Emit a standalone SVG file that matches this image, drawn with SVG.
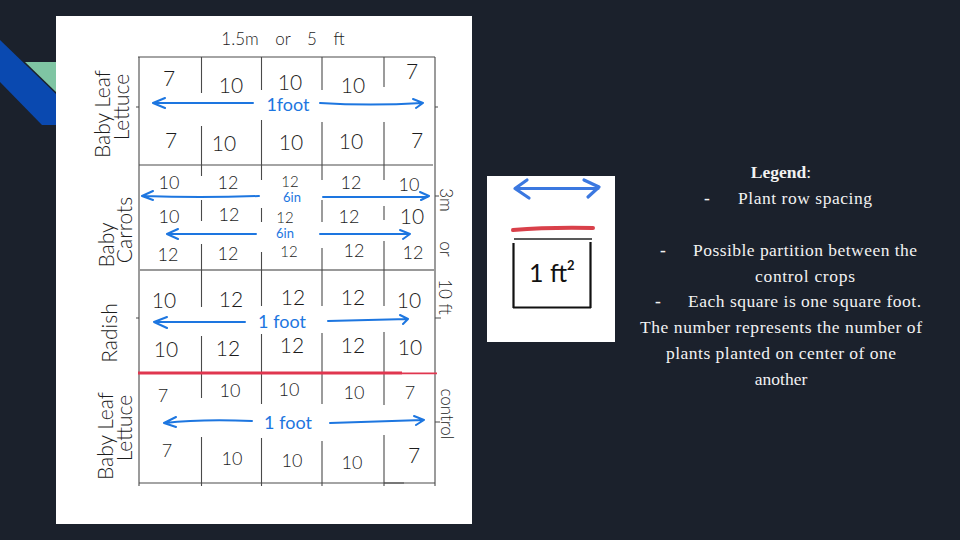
<svg xmlns="http://www.w3.org/2000/svg" width="960" height="540" viewBox="0 0 960 540">
<style>
.grid{stroke:#4a4a4a;stroke-width:1.1;fill:none}
.blue{stroke:#1d76e0;stroke-width:2;fill:none;stroke-linecap:round;stroke-linejoin:round}
.n{font-family:"Lato","Open Sans",sans-serif;font-weight:300;font-size:21px;fill:#1c1c1c;text-anchor:middle}
.s{font-size:18px}
.t{font-size:15px}
.h{font-family:"Lato","Open Sans",sans-serif;font-weight:300;font-size:21px;fill:#1c1c1c;text-anchor:middle}
.b{font-family:"Lato","Open Sans",sans-serif;font-weight:400;font-size:18px;fill:#1d76e0;text-anchor:middle}
.l{font-family:"Liberation Serif",serif;font-size:17.5px;fill:#f2f2f2}
.m{text-anchor:middle}
</style>
<rect width="960" height="540" fill="#1b212c"/>
<g id="decoration">
<polygon points="25,62 56,62 56,92" fill="#7fc5a3"/>
<polygon points="0,40 56,94 56,125 42,125 0,82" fill="#0a49b0"/>
</g>
<rect id="plan-sheet" x="56" y="16" width="416" height="508" fill="#fff"/>
<g id="connectors">
<path class="grid" d="M139 57V483M435 57V483M138 57H435M139 165H433M139 270H435M139 483H435M139 483v3M201.500 483v3M261.500 483v3M322 483v3M384 483v3M435 483v3"/>
<path class="grid" style="stroke:#999;stroke-width:1.800" d="M139 270H435"/>
<path class="grid" d="M201.500 57V93M201.500 126V176M201.500 200V221M201.500 244V307M201.500 336V398M201.500 437V483"/>
<path class="grid" d="M261.500 57V90M261.500 120V180M261.500 208V222M261.500 252V306M261.500 334V404M261.500 438V483"/>
<path class="grid" d="M322 57V90M322 122V180M322 200V222M322 248V306M322 333V404M322 441V483"/>
<path class="grid" d="M384 57V87M384 122V180M384 206V220M384 241V306M384 332V405M384 435V483"/>
<path class="grid" d="M435 196H439M435 318H441M435 422H440M136 107H139M136 318H139M435 107H438M384 483H404" />
<path d="M138 373H402" stroke="#e0364f" stroke-width="3.200" fill="none"/>
<path d="M402 373.300H437" stroke="#e0364f" stroke-width="1.800" fill="none"/>
<path class="blue" d="M253 103H154M165 98L153 103L165 108M320 103Q370 106 422 103M413 99L423 103L416 108"/>
<path class="blue" d="M259 196Q200 198 143 196M153 191L142 196L153 200M323 197H428M420 192L429 196L421 200"/>
<path class="blue" d="M256 234H168M178 229L167 234L178 239M320 234H409M400 230L410 234L403 239"/>
<path class="blue" d="M245 322H155M167 317L154 322L167 328M328 321L408 319M400 315L408 319L403 324"/>
<path class="blue" d="M252 421Q200 419 165 423M176 417L164 423L176 427M330 423L423 420M414 416L424 420L416 425"/>
</g>
<g id="cell-numbers">
<text class="n" x="169" y="86">7</text><text class="n" x="231" y="93">10</text><text class="n" x="290" y="90">10</text><text class="n" x="353" y="93">10</text><text class="n" x="412" y="79">7</text>
<text class="n" x="171" y="148">7</text><text class="n" x="224" y="151">10</text><text class="n" x="291" y="150">10</text><text class="n" x="351" y="149">10</text><text class="n" x="417" y="148">7</text>
<text class="n s" x="169" y="189">10</text><text class="n s" x="228" y="189">12</text><text class="n t" x="290" y="187">12</text><text class="n s" x="351" y="189">12</text><text class="n s" x="409" y="191">10</text>
<text class="n s" x="169" y="223">10</text><text class="n s" x="229" y="221">12</text><text class="n t" x="285" y="223">12</text><text class="n s" x="349" y="223">12</text><text class="n" x="412" y="224">10</text>
<text class="n s" x="168" y="261">12</text><text class="n s" x="228" y="260">12</text><text class="n t" x="289" y="257">12</text><text class="n s" x="354" y="257">12</text><text class="n s" x="413" y="259">12</text>
<text class="n" x="164" y="308">10</text><text class="n" x="231" y="307">12</text><text class="n" x="293" y="305">12</text><text class="n" x="353" y="305">12</text><text class="n" x="409" y="308">10</text>
<text class="n" x="166" y="357">10</text><text class="n" x="228" y="356">12</text><text class="n" x="292" y="353">12</text><text class="n" x="353" y="353">12</text><text class="n" x="410" y="355">10</text>
<text class="n s" x="163" y="402">7</text><text class="n s" x="230" y="397">10</text><text class="n s" x="289" y="396">10</text><text class="n s" x="354" y="399">10</text><text class="n s" x="410" y="399">7</text>
<text class="n s" x="167" y="457">7</text><text class="n s" x="232" y="465">10</text><text class="n s" x="292" y="467">10</text><text class="n s" x="352" y="469">10</text><text class="n" x="414" y="463">7</text>
</g>
<g id="dimension-labels">
<text class="h" x="283" y="45" style="font-size:17px;word-spacing:12px">1.5m or 5 ft</text>
<text class="b" x="288" y="111">1foot</text>
<text class="b" x="292" y="202" style="font-size:13px">6in</text>
<text class="b" x="285" y="238" style="font-size:13px">6in</text>
<text class="b" x="282" y="328">1 foot</text>
<text class="b" x="288" y="429">1 foot</text>
<text class="h" transform="translate(440 200) rotate(90)" style="font-size:17px">3m</text>
<text class="h" transform="translate(440 249) rotate(90)" style="font-size:17px">or</text>
<text class="h" transform="translate(439 297) rotate(90)" style="font-size:17px">10 ft</text>
<text class="h" transform="translate(441 414) rotate(90)" style="font-size:17px">control</text>
</g>
<g id="crop-labels">
<text class="h" transform="translate(110 114) rotate(-90)">Baby Leaf</text>
<text class="h" transform="translate(129 107) rotate(-90)">Lettuce</text>
<text class="h" transform="translate(114 245) rotate(-90)">Baby</text>
<text class="h" transform="translate(132 230) rotate(-90)">Carrots</text>
<text class="h" transform="translate(117 333) rotate(-90)">Radish</text>
<text class="h" transform="translate(113 436) rotate(-90)">Baby Leaf</text>
<text class="h" transform="translate(132 428) rotate(-90)">Lettuce</text>
</g>
<g id="legend-key">
<rect x="487" y="176" width="128" height="166" fill="#fff"/>
<path d="M515 188.500H598M527 180L515 188.500L529 198M584 180L599 187L588 197" stroke="#3b78e0" stroke-width="3.200" fill="none" stroke-linecap="round" stroke-linejoin="round"/>
<path d="M513 230Q550 227 593 228" stroke="#d9404a" stroke-width="4" fill="none" stroke-linecap="round"/>
<path d="M514 239H592" stroke="#222" stroke-width="1.500"/>
<path d="M513.500 243V308M590.500 242V308M513 307.500H591" stroke="#111" stroke-width="2.200" fill="none"/>
<text x="529" y="282" style="font-family:'Lato',sans-serif;font-size:25px;fill:#111;font-weight:400">1 ft<tspan dy="-12" style="font-size:13px;font-weight:700">2</tspan></text>
</g>
<g id="legend-text">
<text class="l m" x="781" y="178"><tspan font-weight="700">Legend</tspan>:</text>
<text class="l" x="704" y="204" font-weight="700">-</text><text class="l" x="738" y="204" textLength="134">Plant row spacing</text>
<text class="l" x="660" y="256" font-weight="700">-</text><text class="l" x="693" y="256" textLength="224">Possible partition between the</text>
<text class="l" x="755" y="282" textLength="100">control crops</text>
<text class="l" x="655" y="307" font-weight="700">-</text><text class="l" x="688" y="307" textLength="233">Each square is one square foot.</text>
<text class="l" x="640" y="333" textLength="282">The number represents the number of</text>
<text class="l" x="666" y="359" textLength="230">plants planted on center of one</text>
<text class="l m" x="781" y="385">another</text>
</g>
</svg>
